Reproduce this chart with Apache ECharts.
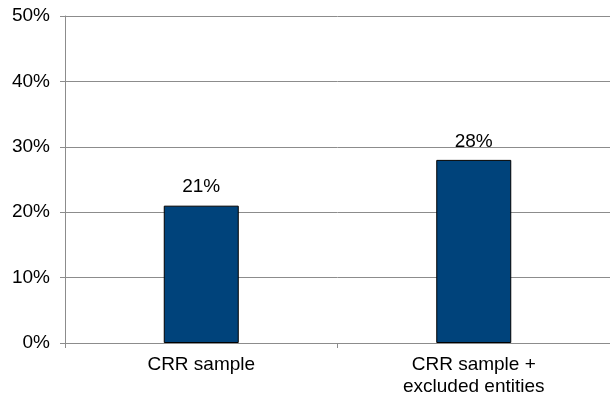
<!DOCTYPE html>
<html>
<head>
<meta charset="utf-8">
<script src="https://cdn.jsdelivr.net/npm/echarts@6/dist/echarts.min.js"></script>
<style>html,body{margin:0;padding:0;background:#fff}#c{width:610px;height:400px}</style>
</head>
<body>
<div id="c"></div>
<script>
const categories = ['CRR sample', 'CRR sample +\nexcluded entities'];
const values = [21, 28];
const yTicks = [0, 10, 20, 30, 40, 50];

const chart = echarts.init(document.getElementById('c'));
const font = 'Liberation Sans, Arial, sans-serif';
chart.setOption({
  animation: false,
  grid: {left: 65, right: -4, top: 16, bottom: 57},
  xAxis: {
    type: 'category',
    data: categories,
    axisLine: {lineStyle: {color: '#8c8c8c', width: 1}},
    axisTick: {show: true, length: 5, lineStyle: {color: '#8c8c8c'}},
    axisLabel: {color: '#000', fontFamily: font, fontSize: 19, margin: 11, lineHeight: 22}
  },
  yAxis: {
    type: 'value',
    min: yTicks[0], max: yTicks[yTicks.length - 1], interval: 10,
    axisLine: {show: true, lineStyle: {color: '#8c8c8c', width: 1}},
    axisTick: {show: true, length: 5, lineStyle: {color: '#8c8c8c'}},
    splitLine: {show: true, lineStyle: {color: '#8c8c8c', width: 1}},
    axisLabel: {color: '#000', fontFamily: font, fontSize: 19, margin: 15, formatter: v => v + '%'}
  },
  series: [{
    type: 'bar',
    data: values,
    barWidth: 75,
    itemStyle: {color: '#00437b', borderColor: '#000', borderWidth: 1},
    label: {show: true, position: 'top', distance: 9, color: '#000', fontFamily: font, fontSize: 19, formatter: p => p.value + '%'}
  }]
});
</script>
</body>
</html>
